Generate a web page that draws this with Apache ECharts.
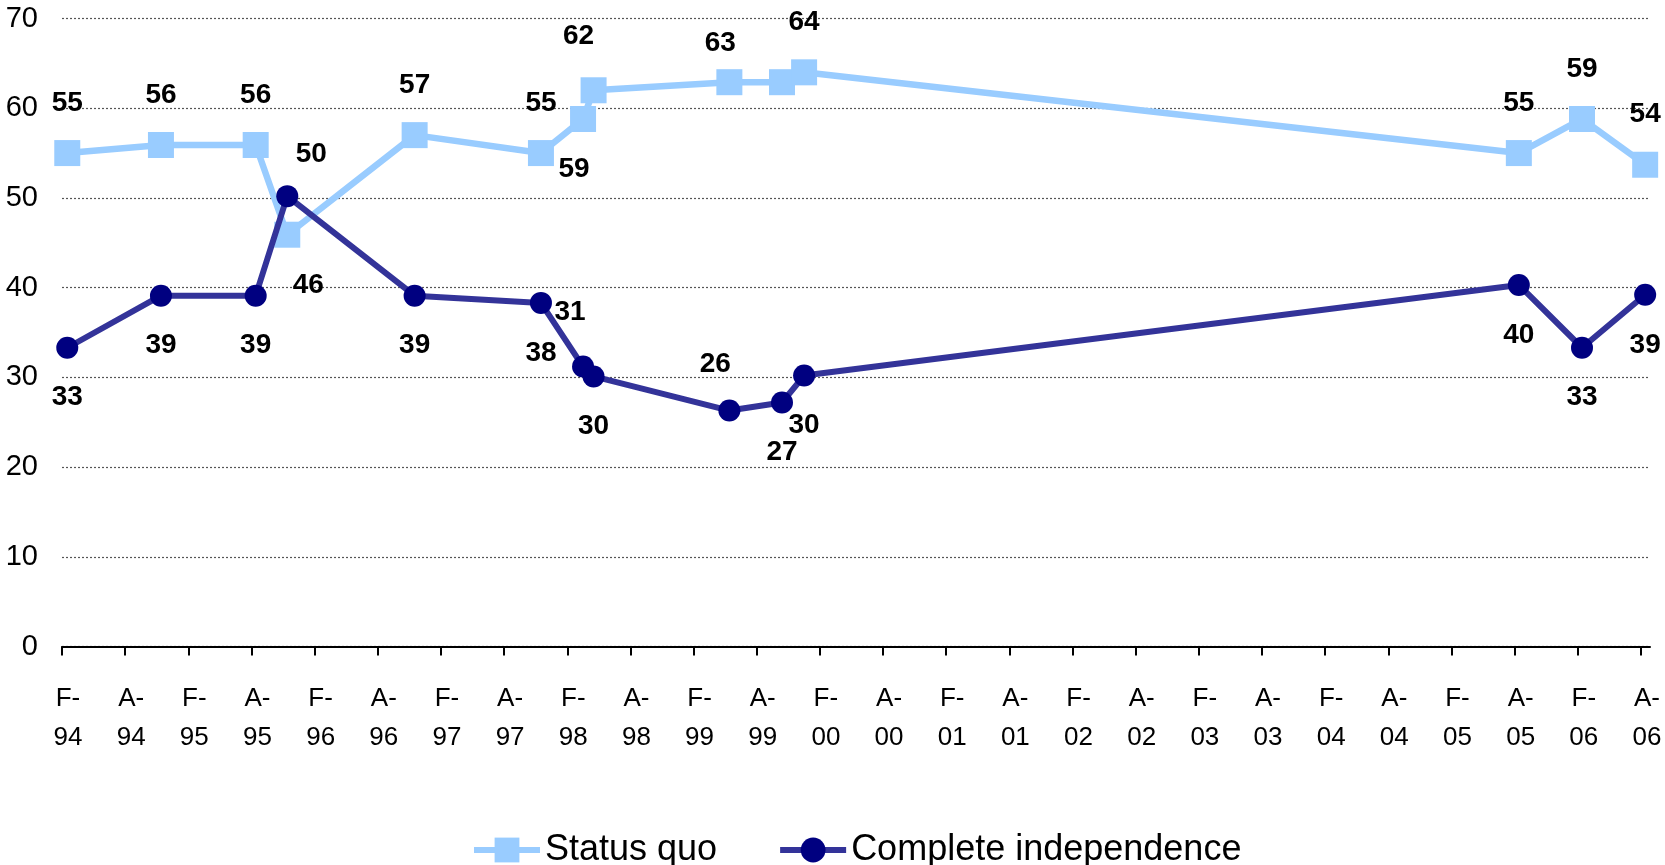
<!DOCTYPE html>
<html><head><meta charset="utf-8">
<script src="https://cdn.jsdelivr.net/npm/echarts@6/dist/echarts.min.js"></script>
<style>html,body{margin:0;padding:0;background:#fff}#c{width:1665px;height:865px}</style>
</head><body><div id="c"></div>
<script>
// Tick labels, one every 6 months from Feb 1994 to Aug 2006
const tickLabels = ['F-\n94','A-\n94','F-\n95','A-\n95','F-\n96','A-\n96','F-\n97','A-\n97','F-\n98','A-\n98','F-\n99','A-\n99','F-\n00','A-\n00','F-\n01','A-\n01','F-\n02','A-\n02','F-\n03','A-\n03','F-\n04','A-\n04','F-\n05','A-\n05','F-\n06','A-\n06'];
// Survey dates, in months since Feb 1994
const surveyMonth = [0.5, 9.4, 18.4, 21.4, 33.5, 45.5, 49.5, 50.5, 63.4, 68.4, 70.5, 138.4, 144.4, 150.4];
const statusQuo = [55.0, 55.9, 55.9, 45.9, 57.0, 55.0, 58.8, 62.0, 62.9, 62.9, 64.0, 55.0, 58.8, 53.7];
const independence = [33.3, 39.1, 39.1, 50.2, 39.1, 38.3, 31.2, 30.1, 26.3, 27.2, 30.2, 40.3, 33.3, 39.2];
const seriesNames = ['Status quo', 'Complete independence'];

// label placement (offset from the point), index -> [dx, dy]
const statusLabelShift = {3: [21, 51], 6: [-9, 50], 7: [-15, -54], 8: [-9, -39]};
const statusLabelHidden = [9];
const indepLabelShift = {3: [24, -42], 6: [-13, -54], 8: [-14, -46]};

const FONT = '"Liberation Sans", Arial, sans-serif';
const tickValues = tickLabels.map((_, i) => i * 6);

function buildData(vals, shifts, hidden, defDy) {
  return vals.map((v, i) => {
    const off = shifts[i] || [0, defDy];
    const item = {value: [surveyMonth[i], v], label: {offset: off}};
    if (hidden && hidden.indexOf(i) >= 0) item.label.show = false;
    return item;
  });
}

const labelStyle = {
  show: true, position: 'inside', color: '#000', fontSize: 28, fontWeight: 'bold', fontFamily: FONT,
  formatter: p => Math.round(p.value[1])
};

const chart = echarts.init(document.getElementById('c'));
chart.setOption({
  animation: false,
  backgroundColor: '#fff',
  grid: {left: 62, right: 15, top: 18.5, bottom: 218.5},
  legend: {
    left: 466, top: 827, itemWidth: 66, itemHeight: 31, itemGap: 60,
    lineStyle: {width: 6},
    textStyle: {fontSize: 36, color: '#000', fontFamily: FONT},
    data: seriesNames
  },
  xAxis: {
    type: 'value', min: 0, max: 150.86,
    axisLine: {show: true, lineStyle: {color: '#000', width: 2}},
    axisTick: {show: true, customValues: tickValues, length: 9, lineStyle: {color: '#000', width: 2}},
    axisLabel: {
      customValues: tickValues, showMinLabel: true, showMaxLabel: true,
      formatter: v => tickLabels[Math.round(v / 6)],
      fontSize: 26, lineHeight: 39, margin: 33, color: '#000', fontFamily: FONT, padding: [0, 0, 0, 12]
    },
    splitLine: {show: false}
  },
  yAxis: {
    type: 'value', min: 0, max: 70, interval: 10,
    axisLine: {show: false}, axisTick: {show: false},
    axisLabel: {fontSize: 29, color: '#000', margin: 24, fontFamily: FONT},
    splitLine: {show: true, lineStyle: {color: '#555', width: 1.2, type: [2, 2]}}
  },
  series: [
    {
      name: seriesNames[0], type: 'line', symbol: 'rect', symbolSize: 26,
      lineStyle: {color: '#99CCFF', width: 6.5}, itemStyle: {color: '#99CCFF'},
      label: labelStyle, emphasis: {disabled: true}, z: 2,
      data: buildData(statusQuo, statusLabelShift, statusLabelHidden, -50)
    },
    {
      name: seriesNames[1], type: 'line', symbol: 'circle', symbolSize: 22,
      lineStyle: {color: '#333399', width: 6}, itemStyle: {color: '#000080'},
      label: labelStyle, emphasis: {disabled: true}, z: 3,
      data: buildData(independence, indepLabelShift, null, 50)
    }
  ]
});
</script></body></html>
